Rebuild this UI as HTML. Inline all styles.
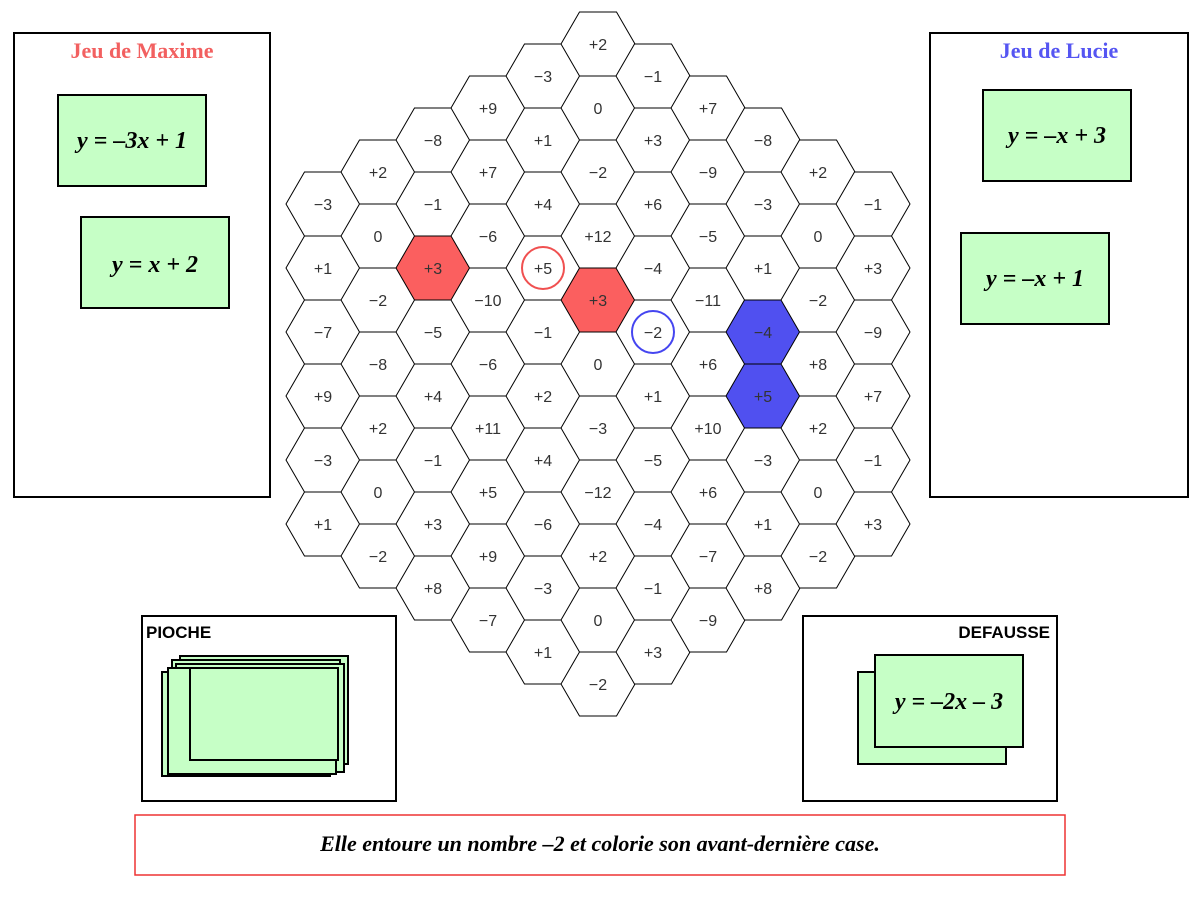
<!DOCTYPE html>
<html><head><meta charset="utf-8"><style>
html,body{margin:0;padding:0;background:#fff;}
svg{display:block}
</style></head><body>
<svg width="1200" height="900" viewBox="0 0 1200 900" xmlns="http://www.w3.org/2000/svg">
<rect width="1200" height="900" fill="#fff"/>
<g id="grid" font-family="Liberation Sans, sans-serif" font-size="16" fill="#fff" stroke="#000" stroke-width="1"></g>
<!-- Left panel -->
<rect x="14" y="33" width="256" height="464" fill="#fff" stroke="#000" stroke-width="2"/>
<text x="142" y="58" text-anchor="middle" font-family="Liberation Serif, serif" font-weight="bold" font-size="22" fill="#f26060">Jeu de Maxime</text>
<rect x="58" y="95" width="148" height="91" fill="#c6ffc6" stroke="#000" stroke-width="2"/>
<text x="132" y="148" text-anchor="middle" font-family="Liberation Serif, serif" font-weight="bold" font-style="italic" font-size="24">y = –3x + 1</text>
<rect x="81" y="217" width="148" height="91" fill="#c6ffc6" stroke="#000" stroke-width="2"/>
<text x="155" y="272" text-anchor="middle" font-family="Liberation Serif, serif" font-weight="bold" font-style="italic" font-size="24">y = x  + 2</text>
<!-- Right panel -->
<rect x="930" y="33" width="258" height="464" fill="#fff" stroke="#000" stroke-width="2"/>
<text x="1059" y="58" text-anchor="middle" font-family="Liberation Serif, serif" font-weight="bold" font-size="22" fill="#5555f2">Jeu de Lucie</text>
<rect x="983" y="90" width="148" height="91" fill="#c6ffc6" stroke="#000" stroke-width="2"/>
<text x="1057" y="143" text-anchor="middle" font-family="Liberation Serif, serif" font-weight="bold" font-style="italic" font-size="24">y = –x + 3</text>
<rect x="961" y="233" width="148" height="91" fill="#c6ffc6" stroke="#000" stroke-width="2"/>
<text x="1035" y="286" text-anchor="middle" font-family="Liberation Serif, serif" font-weight="bold" font-style="italic" font-size="24">y = –x + 1</text>
<!-- Pioche -->
<rect x="142" y="616" width="254" height="185" fill="#fff" stroke="#000" stroke-width="2"/>
<text x="146" y="638" font-family="Liberation Sans, sans-serif" font-weight="bold" font-size="17">PIOCHE</text>
<g fill="#c6ffc6" stroke="#000" stroke-width="2">
<rect x="180" y="656" width="168" height="108"/>
<rect x="172" y="660" width="168" height="108"/>
<rect x="162" y="672" width="168" height="104"/>
<rect x="176" y="664" width="168" height="108"/>
<rect x="168" y="668" width="168" height="106"/>
<rect x="190" y="668" width="148" height="92"/>
</g>
<!-- Defausse -->
<rect x="803" y="616" width="254" height="185" fill="#fff" stroke="#000" stroke-width="2"/>
<text x="1050" y="638" text-anchor="end" font-family="Liberation Sans, sans-serif" font-weight="bold" font-size="17">DEFAUSSE</text>
<rect x="858" y="672" width="148" height="92" fill="#c6ffc6" stroke="#000" stroke-width="2"/>
<rect x="875" y="655" width="148" height="92" fill="#c6ffc6" stroke="#000" stroke-width="2"/>
<text x="949" y="709" text-anchor="middle" font-family="Liberation Serif, serif" font-weight="bold" font-style="italic" font-size="24">y = –2x – 3</text>
<!-- bottom text -->
<rect x="135" y="815" width="930" height="60" fill="#fff" stroke="#e33" stroke-width="1.5"/>
<text x="600" y="851" text-anchor="middle" font-family="Liberation Serif, serif" font-weight="bold" font-style="italic" font-size="22">Elle entoure un nombre –2 et colorie son avant-dernière case.</text>
</svg>
<script>
const cols=[
[323,204,["−3","+1","−7","+9","−3","+1"]],
[378,172,["+2","0","−2","−8","+2","0","−2"]],
[433,140,["−8","−1","+3","−5","+4","−1","+3","+8"]],
[488,108,["+9","+7","−6","−10","−6","+11","+5","+9","−7"]],
[543,76,["−3","+1","+4","+5","−1","+2","+4","−6","−3","+1"]],
[598,44,["+2","0","−2","+12","+3","0","−3","−12","+2","0","−2"]],
[653,76,["−1","+3","+6","−4","−2","+1","−5","−4","−1","+3"]],
[708,108,["+7","−9","−5","−11","+6","+10","+6","−7","−9"]],
[763,140,["−8","−3","+1","−4","+5","−3","+1","+8"]],
[818,172,["+2","0","−2","+8","+2","0","−2"]],
[873,204,["−1","+3","−9","+7","−1","+3"]]];
const fills={"433,268":"#fb5f5f","598,300":"#fb5f5f","763,332":"#5050f0","763,396":"#5050f0"};
const circ={"543,268":"#f05050","653,332":"#4545f0"};
const g=document.getElementById('grid');
let out="";
for(const [x,y0,vals] of cols){vals.forEach((v,i)=>{const y=y0+i*64;
const R=37,h=32;
const pts=[[x-R,y],[x-R/2,y-h],[x+R/2,y-h],[x+R,y],[x+R/2,y+h],[x-R/2,y+h]].map(p=>p.join(',')).join(' ');
const f=fills[x+","+y]||"#fff";
out+=`<polygon points="${pts}" fill="${f}" stroke="#000"/>`;
const c=circ[x+","+y];
if(c) out+=`<circle cx="${x}" cy="${y}" r="21" fill="none" stroke="${c}" stroke-width="2"/>`;
out+=`<text x="${x}" y="${y+6}" text-anchor="middle" fill="#333" stroke="none">${v}</text>`;
});}
g.innerHTML=out;
</script>
</body></html>
